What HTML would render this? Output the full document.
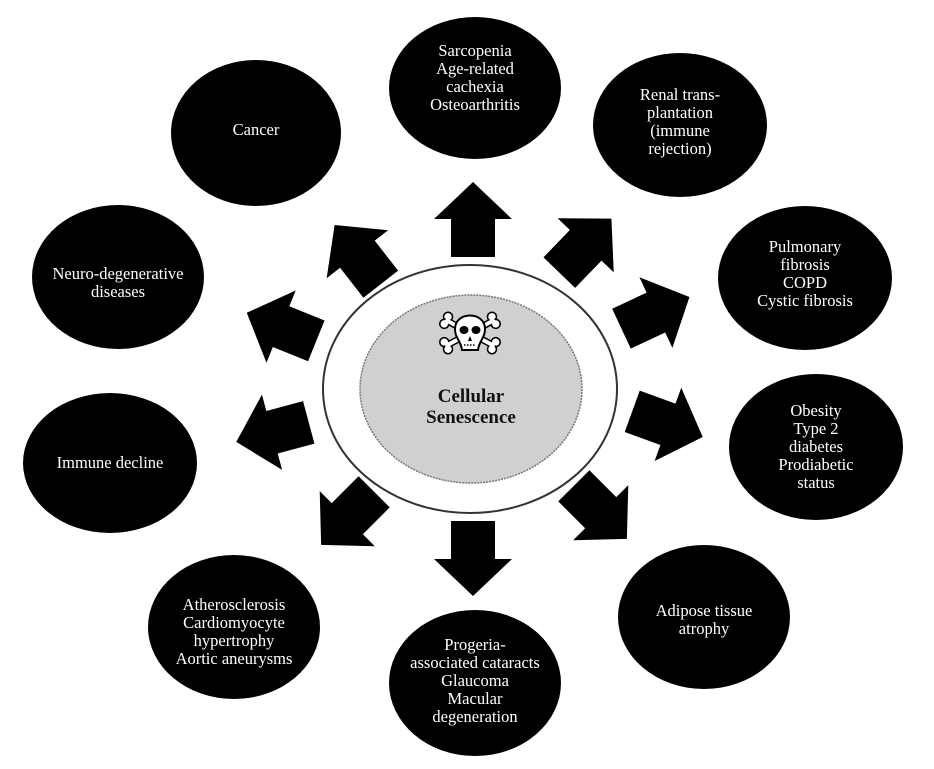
<!DOCTYPE html>
<html><head><meta charset="utf-8"><style>
html,body{margin:0;padding:0;background:#fff;}
svg{display:block;}
text{font-family:"Liberation Serif",serif;font-size:16.5px;fill:#fff;text-anchor:middle;}
</style></head><body>
<svg width="934" height="769" viewBox="0 0 934 769" xmlns="http://www.w3.org/2000/svg">
<defs>
<polygon id="ar" points="-37,-22 1,-22 1,-39 38,0 1,39 1,22 -37,22" fill="#000"/>
<g id="bone">
<line x1="-26" y1="0" x2="26" y2="0" stroke="#000" stroke-width="7" stroke-linecap="round"/>
<circle cx="-27" cy="-4" r="4.5" fill="#fff" stroke="#000" stroke-width="1.6"/>
<circle cx="-27" cy="4" r="4.5" fill="#fff" stroke="#000" stroke-width="1.6"/>
<circle cx="27" cy="-4" r="4.5" fill="#fff" stroke="#000" stroke-width="1.6"/>
<circle cx="27" cy="4" r="4.5" fill="#fff" stroke="#000" stroke-width="1.6"/>
<line x1="-26" y1="0" x2="26" y2="0" stroke="#fff" stroke-width="4" stroke-linecap="round"/>
</g>
</defs>
<ellipse cx="470" cy="389" rx="147" ry="124" fill="#fff" stroke="#333" stroke-width="2"/>
<ellipse cx="471" cy="389" rx="111" ry="94" fill="#d0d0d0" stroke="#777" stroke-width="1.5" stroke-dasharray="2,1"/>
<g transform="translate(470,333)">
<use href="#bone" transform="rotate(28)"/>
<use href="#bone" transform="rotate(-28)"/>
<path d="M-15,-4 C-15,-22 15,-22 15,-4 C15,5 9,8 8,17 L-8,17 C-9,8 -15,5 -15,-4 Z" fill="#fff" stroke="#000" stroke-width="2"/>
<ellipse cx="-6" cy="-3" rx="4.5" ry="4" fill="#000"/>
<ellipse cx="6" cy="-3" rx="4.5" ry="4" fill="#000"/>
<path d="M0,3 L-2,8 L2,8 Z" fill="#000"/>
<line x1="-6" y1="12" x2="6" y2="12" stroke="#000" stroke-width="1.5" stroke-dasharray="1.5,1.5"/>
</g>
<text x="471" y="402" style="fill:#111;font-weight:bold;font-size:19px">Cellular</text>
<text x="471" y="423" style="fill:#111;font-weight:bold;font-size:19px">Senescence</text>

<use href="#ar" transform="translate(473,220) rotate(-90)"/>
<use href="#ar" transform="translate(585,246) rotate(-46)"/>
<use href="#ar" transform="translate(655,313) rotate(-25)"/>
<use href="#ar" transform="translate(667,424) rotate(20)"/>
<use href="#ar" transform="translate(600,512) rotate(45)"/>
<use href="#ar" transform="translate(473,558) rotate(90)"/>
<use href="#ar" transform="translate(348,518) rotate(135)"/>
<use href="#ar" transform="translate(273,432) rotate(165)"/>
<use href="#ar" transform="translate(282,327) rotate(202)"/>
<use href="#ar" transform="translate(358,255) rotate(-128)"/>

<ellipse cx="475" cy="88" rx="86" ry="71"/>
<text x="475" y="56">Sarcopenia</text><text x="475" y="74">Age-related</text><text x="475" y="92">cachexia</text><text x="475" y="110">Osteoarthritis</text>

<ellipse cx="680" cy="125" rx="87" ry="72"/>
<text x="680" y="100">Renal trans-</text><text x="680" y="118">plantation</text><text x="680" y="136">(immune</text><text x="680" y="154">rejection)</text>

<ellipse cx="805" cy="278" rx="87" ry="72"/>
<text x="805" y="252">Pulmonary</text><text x="805" y="270">fibrosis</text><text x="805" y="288">COPD</text><text x="805" y="306">Cystic fibrosis</text>

<ellipse cx="816" cy="447" rx="87" ry="73"/>
<text x="816" y="416">Obesity</text><text x="816" y="434">Type 2</text><text x="816" y="452">diabetes</text><text x="816" y="470">Prodiabetic</text><text x="816" y="488">status</text>

<ellipse cx="704" cy="617" rx="86" ry="72"/>
<text x="704" y="616">Adipose tissue</text><text x="704" y="634">atrophy</text>

<ellipse cx="475" cy="683" rx="86" ry="73"/>
<text x="475" y="650">Progeria-</text><text x="475" y="668">associated cataracts</text><text x="475" y="686">Glaucoma</text><text x="475" y="704">Macular</text><text x="475" y="722">degeneration</text>

<ellipse cx="234" cy="627" rx="86" ry="72"/>
<text x="234" y="610">Atherosclerosis</text><text x="234" y="628">Cardiomyocyte</text><text x="234" y="646">hypertrophy</text><text x="234" y="664">Aortic aneurysms</text>

<ellipse cx="110" cy="463" rx="87" ry="70"/>
<text x="110" y="468">Immune decline</text>

<ellipse cx="118" cy="277" rx="86" ry="72"/>
<text x="118" y="279">Neuro-degenerative</text><text x="118" y="297">diseases</text>

<ellipse cx="256" cy="133" rx="85" ry="73"/>
<text x="256" y="135">Cancer</text>
</svg>
</body></html>
